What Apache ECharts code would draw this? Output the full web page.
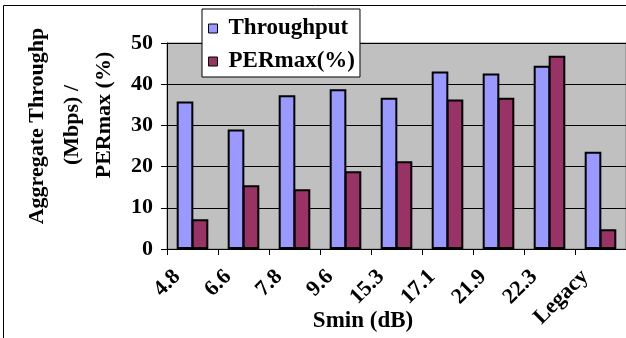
<!DOCTYPE html>
<html>
<head>
<meta charset="utf-8">
<script src="https://cdn.jsdelivr.net/npm/echarts@6/dist/echarts.min.js"></script>
<style>
html,body{margin:0;padding:0;background:#fff;}
#chart{width:626px;height:338px;}
</style>
</head>
<body>
<div id="chart"></div>
<script>
var categories = ['4.8', '6.6', '7.8', '9.6', '15.3', '17.1', '21.9', '22.3', 'Legacy'];
var throughput = [35.8, 29.0, 37.3, 38.8, 36.7, 43.1, 42.6, 44.5, 23.6];
var permax = [7.2, 15.5, 14.5, 18.9, 21.3, 36.3, 36.7, 46.9, 4.8];
var yTicks = [0, 10, 20, 30, 40, 50];
var seriesNames = ['Throughput', 'PERmax(%)'];
var yTitleLines = ['Aggregate Throughput', '(Mbps) /', 'PERmax (%)'];
var xTitle = 'Smin (dB)';

var FONT = 'Liberation Serif';
var chart = echarts.init(document.getElementById('chart'), null, {renderer: 'canvas'});
var option = {
  backgroundColor: '#ffffff',
  animation: false,
  grid: {
    left: 167, top: 43, bottom: 89, right: -5,
    show: true, backgroundColor: '#C0C0C0', borderColor: '#808080', borderWidth: 1,
    containLabel: false
  },
  legend: {
    orient: 'vertical',
    left: 202, top: 9,
    data: seriesNames,
    icon: 'rect',
    itemWidth: 9, itemHeight: 9,
    itemGap: 10,
    padding: [8, 5, 4, 6],
    backgroundColor: '#ffffff',
    borderColor: '#000000', borderWidth: 1,
    itemStyle: {borderColor: '#000', borderWidth: 1},
    textStyle: {fontFamily: FONT, fontWeight: 'bold', fontSize: 23, color: '#000', padding: [0, 0, 0, 6]}
  },
  xAxis: {
    type: 'category',
    data: categories,
    axisLine: {lineStyle: {color: '#000', width: 1}},
    axisTick: {show: true, length: 6, lineStyle: {color: '#000'}},
    axisLabel: {
      interval: 0, rotate: 45, margin: 9,
      padding: [0, 22, 0, 0],
      fontFamily: FONT, fontWeight: 'bold', fontSize: 22, color: '#000'
    },
    splitLine: {show: false}
  },
  yAxis: {
    type: 'value',
    min: yTicks[0], max: yTicks[yTicks.length - 1], interval: 10,
    axisLine: {show: true, lineStyle: {color: '#000', width: 1}},
    axisTick: {show: true, length: 6, lineStyle: {color: '#000'}},
    axisLabel: {margin: 14, fontFamily: FONT, fontWeight: 'bold', fontSize: 22, color: '#000'},
    splitLine: {show: true, lineStyle: {color: '#000', width: 1}}
  },
  series: [
    {
      name: seriesNames[0], type: 'bar', data: throughput,
      barCategoryGap: '38%', barGap: '-10%',
      itemStyle: {color: '#9999FF', borderColor: '#000', borderWidth: 2}
    },
    {
      name: seriesNames[1], type: 'bar', data: permax,
      barCategoryGap: '38%', barGap: '-10%',
      itemStyle: {color: '#993366', borderColor: '#000', borderWidth: 2}
    }
  ],
  graphic: [
    {
      type: 'rect', z: 100, silent: true,
      shape: {x: 3.5, y: 5.5, width: 700, height: 400},
      style: {fill: 'none', stroke: '#000', lineWidth: 1}
    },
    {
      type: 'text', x: 37, y: 126, rotation: Math.PI / 2,
      style: {text: yTitleLines[0], width: 200, overflow: 'truncate', ellipsis: '',
        font: 'bold 22px "' + FONT + '"', fill: '#000', align: 'center', verticalAlign: 'middle'}
    },
    {
      type: 'text', x: 72, y: 125, rotation: Math.PI / 2,
      style: {text: yTitleLines[1], font: 'bold 22px "' + FONT + '"', fill: '#000', align: 'center', verticalAlign: 'middle'}
    },
    {
      type: 'text', x: 104, y: 115, rotation: Math.PI / 2,
      style: {text: yTitleLines[2], font: 'bold 22px "' + FONT + '"', fill: '#000', align: 'center', verticalAlign: 'middle'}
    },
    {
      type: 'text', x: 363, y: 321,
      style: {text: xTitle, font: 'bold 23px "' + FONT + '"', fill: '#000', align: 'center', verticalAlign: 'middle'}
    }
  ]
};
chart.setOption(option);
</script>
</body>
</html>
